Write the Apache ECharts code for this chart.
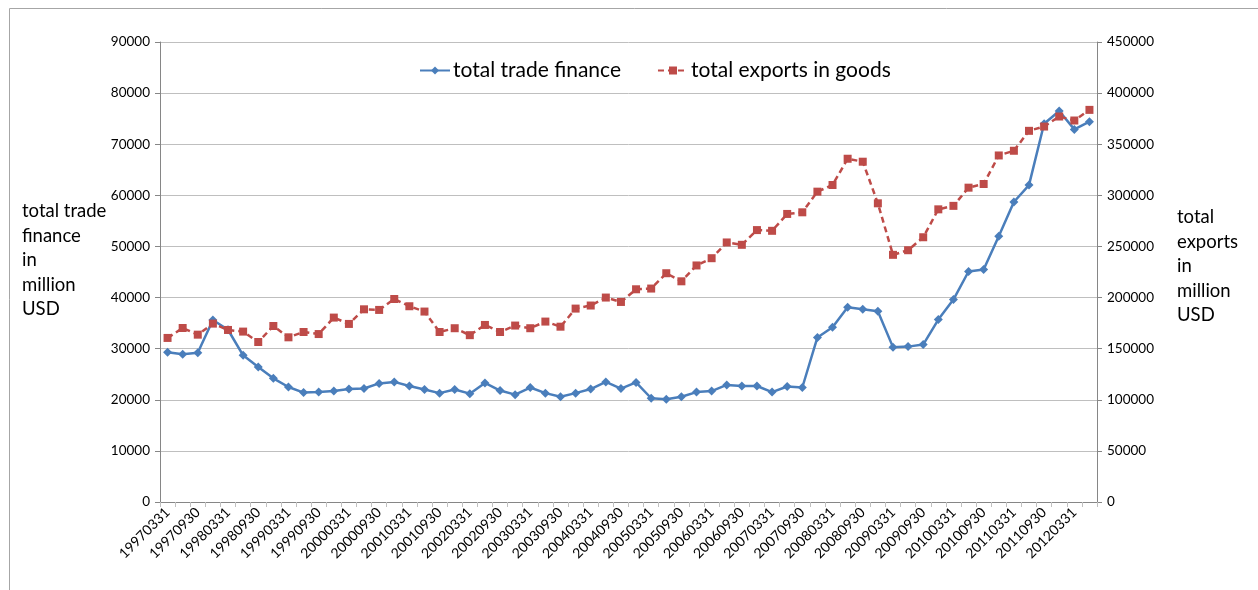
<!DOCTYPE html>
<html>
<head>
<meta charset="utf-8">
<script src="https://cdn.jsdelivr.net/npm/echarts@6/dist/echarts.min.js"></script>
<style>
html,body{margin:0;padding:0;background:#fff;}
#chart{width:1258px;height:590px;}
</style>
</head>
<body>
<div id="chart"></div>
<script>
var categories = [
"19970331","19970630","19970930","19971231",
"19980331","19980630","19980930","19981231",
"19990331","19990630","19990930","19991231",
"20000331","20000630","20000930","20001231",
"20010331","20010630","20010930","20011231",
"20020331","20020630","20020930","20021231",
"20030331","20030630","20030930","20031231",
"20040331","20040630","20040930","20041231",
"20050331","20050630","20050930","20051231",
"20060331","20060630","20060930","20061231",
"20070331","20070630","20070930","20071231",
"20080331","20080630","20080930","20081231",
"20090331","20090630","20090930","20091231",
"20100331","20100630","20100930","20101231",
"20110331","20110630","20110930","20111231",
"20120331","20120630"
];
var tradeFinance = [
29300,28900,29200,35600,33700,28700,26400,24200,22500,21400,
21500,21700,22100,22200,23200,23500,22700,22000,21300,22000,
21200,23300,21800,21000,22400,21300,20600,21300,22100,23500,
22200,23400,20300,20100,20600,21500,21700,22900,22700,22700,
21500,22600,22400,32200,34200,38100,37700,37300,30300,30400,
30800,35700,39600,45100,45500,52000,58700,62000,74000,76500,
72900,74400
];
var exportsGoods = [
160500,170200,163700,174500,168300,166700,156500,172200,161100,166300,
164300,180400,174200,188500,187900,198600,191500,186300,166300,170000,
163200,173200,166300,172600,170000,176500,171500,189200,192200,200000,
195700,208100,208800,223800,215900,231400,238500,253900,251600,266000,
265300,281800,283400,303600,310100,335800,332900,292200,241800,246300,
259000,286300,289700,307500,311100,339000,343600,363100,367300,377100,
373200,383600
];
var leftName = "total trade\nfinance\nin\nmillion\nUSD";
var rightName = "total\nexports\nin\nmillion\nUSD";

var FONT = "Lato, 'Liberation Sans', sans-serif";
var plain = function (v) { return String(v); };
var chart = echarts.init(document.getElementById('chart'));
chart.setOption({
  animation:false,
  backgroundColor:'#fff',
  textStyle:{fontFamily:FONT},
  graphic:[
    {type:'rect', left:7, top:6, shape:{width:1400, height:700}, style:{fill:'none', stroke:'#a6a6a6', lineWidth:1}, silent:true, z:-10},
    {type:'text', left:22, top:199, style:{text:leftName, font:"18.5px "+FONT, fill:'#000', lineHeight:24.5}},
    {type:'text', left:1177, top:205, style:{text:rightName, font:"18.5px "+FONT, fill:'#000', lineHeight:24.5}}
  ],
  legend:{
    top:55, left:414, itemGap:36, itemWidth:30, itemHeight:10,
    textStyle:{fontSize:21, color:'#000', fontFamily:FONT, padding:[0,0,0,-2]},
    data:['total trade finance','total exports in goods']
  },
  grid:{left:160, right:161, top:42, bottom:88, containLabel:false},
  xAxis:{
    type:'category', data:categories, boundaryGap:true,
    axisLine:{lineStyle:{color:'#868686'}},
    axisTick:{show:true, interval:0, length:5, lineStyle:{color:'#c0c0c0'}},
    axisLabel:{interval:1, rotate:45, fontSize:14, color:'#000', margin:8, fontFamily:FONT},
    splitLine:{show:false}
  },
  yAxis:[
    {type:'value', min:0, max:90000, interval:10000, position:'left',
     axisLine:{show:true, lineStyle:{color:'#868686'}},
     axisTick:{show:true, length:5, lineStyle:{color:'#868686'}},
     axisLabel:{fontSize:13.5, color:'#000', margin:10, fontFamily:FONT, formatter:plain},
     splitLine:{show:true, lineStyle:{color:'#bfbfbf', width:1}}},
    {type:'value', min:0, max:450000, interval:50000, position:'right',
     axisLine:{show:true, lineStyle:{color:'#868686'}},
     axisTick:{show:true, length:5, lineStyle:{color:'#868686'}},
     axisLabel:{fontSize:13.5, color:'#000', margin:10, fontFamily:FONT, formatter:plain},
     splitLine:{show:false}}
  ],
  series:[
    {name:'total trade finance', type:'line', yAxisIndex:0, data:tradeFinance,
     symbol:'diamond', symbolSize:9,
     lineStyle:{color:'#4a7ebb', width:2.5},
     itemStyle:{color:'#4a7ebb'}},
    {name:'total exports in goods', type:'line', yAxisIndex:1, data:exportsGoods,
     symbol:'rect', symbolSize:8,
     lineStyle:{color:'#be4b48', width:2.5, type:[6,4]},
     itemStyle:{color:'#be4b48'}}
  ]
});
</script>
</body>
</html>
